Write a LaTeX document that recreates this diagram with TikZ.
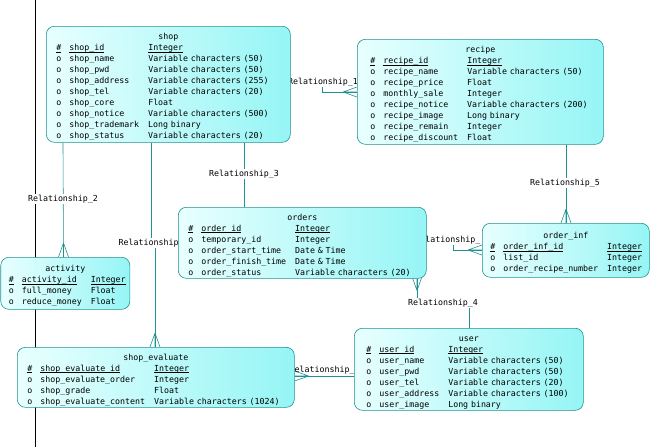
\documentclass[tikz,border=0pt]{standalone}
\usepackage{fontspec}
\usepackage{tikz}
\setmonofont{DejaVu Sans Mono}

\definecolor{edgecol}{RGB}{30,145,145}
\definecolor{boxlight}{RGB}{232,255,255}
\definecolor{boxdark}{RGB}{150,245,245}

\pgfdeclarelayer{canvas}
\pgfdeclarelayer{back}
\pgfsetlayers{canvas,back,main}

\newcommand{\pdfont}{\ttfamily\fontsize{8.3}{11}\selectfont}
% key column: a flat underline just below the baseline
\newcommand{\pk}[1]{\setbox0\hbox{#1}\rlap{\rule[-1.6pt]{\wd0}{0.5pt}}\box0}
% title line of an entity, then its columns
\newcommand{\etitle}[1]{\noindent\rule[-3.3pt]{0pt}{16pt}#1}
\newcommand{\cols}[1]{\makebox[\hsize][l]{\begin{tabular}[t]{@{}l@{\hspace{8pt}}l@{\hspace{9pt}}l@{}}#1\end{tabular}}}

\tikzset{
  entity/.style={draw=edgecol, line width=0.6pt, rounded corners=8pt,
    left color=boxlight, right color=boxdark, anchor=north west,
    font=\pdfont, align=center, inner xsep=10pt, inner ysep=0pt},
  rel/.style={draw=edgecol, line width=0.6pt},
  rellabel/.style={font=\pdfont, fill=white, inner sep=0.5pt},
  crow/.pic={\draw[rel] (0,0) -- (-5,14) (0,0) -- (0,14) (0,0) -- (5,14);}
}

\begin{document}
\begin{tikzpicture}[x=1pt, y=-1pt]
    % Page
    \begin{pgfonlayer}{canvas}
    \fill[white] (0,0) rectangle (667,447);
    \end{pgfonlayer}
    \useasboundingbox (0,0) rectangle (667,447);

    % Draw the entities
    \node[entity, minimum height=116pt, text width=224pt] (shop) at (46,26) {\etitle{shop}\\
      \cols{\pk{\#} & \pk{shop\_id} & \pk{Integer}\\
      o & shop\_name & Variable characters (50)\\
      o & shop\_pwd & Variable characters (50)\\
      o & shop\_address & Variable characters (255)\\
      o & shop\_tel & Variable characters (20)\\
      o & shop\_core & Float\\
      o & shop\_notice & Variable characters (500)\\
      o & shop\_trademark & Long binary\\
      o & shop\_status & Variable characters (20)}};
    \node[entity, minimum height=105pt, inner xsep=13pt, text width=220pt] (recipe) at (357,39) {\etitle{recipe}\\
      \cols{\pk{\#} & \pk{recipe\_id} & \pk{Integer}\\
      o & recipe\_name & Variable characters (50)\\
      o & recipe\_price & Float\\
      o & monthly\_sale & Integer\\
      o & recipe\_notice & Variable characters (200)\\
      o & recipe\_image & Long binary\\
      o & recipe\_remain & Integer\\
      o & recipe\_discount & Float}};
    \node[entity, minimum height=52pt, inner xsep=8pt, text width=113pt] (activity) at (0.5,257) {\etitle{activity}\\
      \cols{\pk{\#} & \pk{activity\_id} & \pk{Integer}\\
      o & full\_money & Float\\
      o & reduce\_money & Float}};
    \node[entity, minimum height=71pt, text width=228pt] (orders) at (178,207) {\etitle{orders}\\
      \cols{\pk{\#} & \pk{order\_id} & \pk{Integer}\\
      o & temporary\_id & Integer\\
      o & order\_start\_time & Date \& Time\\
      o & order\_finish\_time & Date \& Time\\
      o & order\_status & Variable characters (20)}};
    \node[entity, minimum height=54pt, inner xsep=8pt, text width=151pt] (order_inf) at (482,223) {\etitle{order\_inf}\\
      \cols{\pk{\#} & \pk{order\_inf\_id} & \pk{Integer}\\
      o & list\_id & Integer\\
      o & order\_recipe\_number & Integer}};
    \node[entity, minimum height=82pt, inner xsep=12pt, text width=205pt] (user) at (354,328) {\etitle{user}\\
      \cols{\pk{\#} & \pk{user\_id} & \pk{Integer}\\
      o & user\_name & Variable characters (50)\\
      o & user\_pwd & Variable characters (50)\\
      o & user\_tel & Variable characters (20)\\
      o & user\_address & Variable characters (100)\\
      o & user\_image & Long binary}};
    \node[entity, minimum height=60pt, text width=257pt] (shop_evaluate) at (17,347) {\etitle{shop\_evaluate}\\
      \cols{\pk{\#} & \pk{shop\_evaluate\_id} & \pk{Integer}\\
      o & shop\_evaluate\_order & Integer\\
      o & shop\_grade & Float\\
      o & shop\_evaluate\_content & Variable characters (1024)}};

    \begin{pgfonlayer}{back}
    % Black rule on the left
    \draw[black, line width=0.8pt] (35.5,0) -- (35.5,447);

    % Draw the relationships
    \draw[rel] ([yshift=-56pt]shop.north east) -- ++(32,0) |- ([yshift=-53pt]recipe.north west);
    \pic[rotate=90] at ([xshift=-14pt,yshift=-53pt]recipe.north west) {crow};

    \draw[rel] ([xshift=17pt]shop.south west) -- ([xshift=63pt]activity.north west);
    \pic at ([xshift=63pt,yshift=14pt]activity.north west) {crow};

    \draw[rel] ([xshift=105pt]shop.south west) -- ++(0,103) -- ++(4,0) -- ([xshift=138pt]shop_evaluate.north west);
    \pic at ([xshift=138pt,yshift=14pt]shop_evaluate.north west) {crow};

    \draw[rel] ([xshift=198pt]shop.south west) -- ([xshift=66pt]orders.north west);

    \draw[rel] ([yshift=-33pt]orders.north east) -- ++(27,0) |- ([yshift=-27pt]order_inf.north west);
    \pic[rotate=90] at ([xshift=-14pt,yshift=-27pt]order_inf.north west) {crow};

    \draw[rel] ([xshift=239pt]orders.south west) |- ([xshift=115pt,yshift=25pt]user.north west) -- ([xshift=115pt]user.north west);
    \pic[rotate=180] at ([xshift=239pt,yshift=-12pt]orders.south west) {crow};

    \draw[rel] ([xshift=209pt]recipe.south west) -- ([xshift=84pt]order_inf.north west);
    \pic at ([xshift=84pt,yshift=14pt]order_inf.north west) {crow};

    \draw[rel] ([yshift=-29pt]shop_evaluate.north east) -- ([yshift=-48pt]user.north west);
    \pic[rotate=-90] at ([xshift=14pt,yshift=-29pt]shop_evaluate.north east) {crow};

    % Label the relationships
    \node[rellabel] (r1) at (323,82) {Relationship\_1};
    \node[rellabel] (r2) at (63,199) {Relationship\_2};
    \node[rellabel] (r3) at (244,174) {Relationship\_3};
    \node[rellabel] (r4) at (443,303) {Relationship\_4};
    \node[rellabel] (r5) at (565,183) {Relationship\_5};
    \node[rellabel, anchor=west] (r6) at (118,243) {Relationship};
    \node[rellabel, anchor=east] (r7) at (481,240) {elationship\_};
    \node[rellabel, anchor=west, fill=none] (r8) at (294,370) {elationship\_};
    \end{pgfonlayer}
\end{tikzpicture}
\end{document}
